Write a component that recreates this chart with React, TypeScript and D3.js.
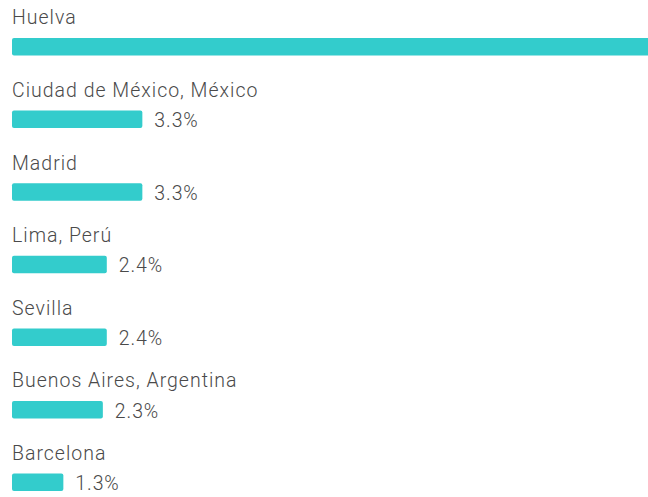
import React from "react";
import * as d3 from "d3";

const categories = [
  "Huelva",
  "Ciudad de México, México",
  "Madrid",
  "Lima, Perú",
  "Sevilla",
  "Buenos Aires, Argentina",
  "Barcelona",
];
const values = [60.0, 3.3, 3.3, 2.4, 2.4, 2.3, 1.3];

const W = 648;
const H = 497;

export default function App() {
  const x = d3.scaleLinear().domain([0, 10]).range([0, 395]);
  const y = d3
    .scaleBand<string>()
    .domain(categories)
    .range([0, 72.6 * categories.length])
    .paddingInner(0)
    .paddingOuter(0);
  const left = 12;
  return (
    <svg
      width={W}
      height={H}
      style={{ position: "absolute", left: 0, top: 0, display: "block" }}
      fontFamily="Roboto, sans-serif"
    >
      <rect width={W} height={H} fill="#fff" />
      {categories.map((c, i) => {
        const y0 = y(c) as number;
        const bw = x(values[i]);
        return (
          <g key={c}>
            <text x={left} y={y0 + 24.4} fontSize={19.5} letterSpacing={1.0} fontWeight={300} fill="#4a4a4a">
              {c}
            </text>
            <rect x={left} y={y0 + 38} width={bw} height={17.5} rx={2} fill="#33cccc" />
            {left + bw + 12 < W && (
              <text x={left + bw + 12} y={y0 + 54.5} fontSize={19.5} letterSpacing={0.9} fontWeight={300} fill="#4a4a4a">
                {d3.format(".1f")(values[i])}%
              </text>
            )}
          </g>
        );
      })}
    </svg>
  );
}
